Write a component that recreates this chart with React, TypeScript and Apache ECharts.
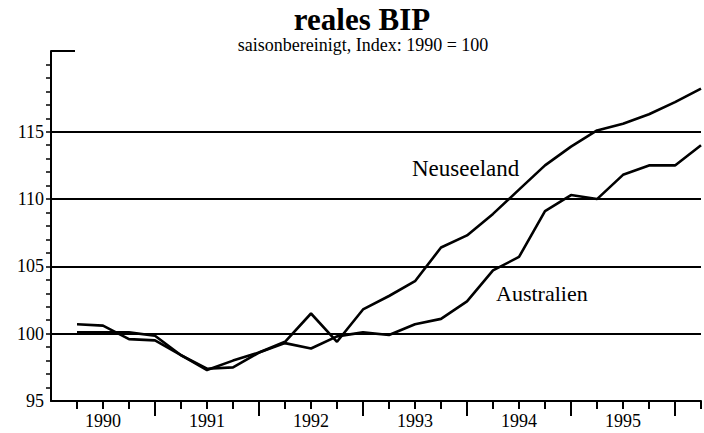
import React, { useEffect, useRef } from "react";
import * as echarts from "echarts";

const quarters = [
  "1990Q1", "1990Q2", "1990Q3", "1990Q4",
  "1991Q1", "1991Q2", "1991Q3", "1991Q4",
  "1992Q1", "1992Q2", "1992Q3", "1992Q4",
  "1993Q1", "1993Q2", "1993Q3", "1993Q4",
  "1994Q1", "1994Q2", "1994Q3", "1994Q4",
  "1995Q1", "1995Q2", "1995Q3", "1995Q4",
  "1996Q1",
];
const neuseeland = [
  100.1, 100.1, 100.1, 99.85, 98.4, 97.3, 98.0, 98.6,
  99.4, 101.5, 99.4, 101.8, 102.8, 103.9, 106.4, 107.3,
  108.9, 110.7, 112.5, 113.9, 115.1, 115.6, 116.3, 117.2, 118.2,
];
const australien = [
  100.7, 100.6, 99.6, 99.5, 98.4, 97.4, 97.5, 98.6,
  99.3, 98.9, 99.8, 100.1, 99.9, 100.7, 101.1, 102.4,
  104.7, 105.7, 109.1, 110.3, 110.0, 111.8, 112.5, 112.5, 114.0,
];
const yearLabels = ["1990", "1991", "1992", "1993", "1994", "1995"];
const yLabels = [95, 100, 105, 110, 115];
const gridValues = [100, 105, 110, 115];

const titleText = "reales BIP";
const subtitleText = "saisonbereinigt, Index: 1990 = 100";

const toX = (q: string) => Number(q.slice(0, 4)) + Number(q.slice(5)) * 0.25;

export default function App() {
  const ref = useRef<HTMLDivElement>(null);
  useEffect(() => {
    if (!ref.current) return;
    const chart = echarts.init(ref.current, null, { renderer: "svg" });
    const font = "'Liberation Serif', 'Times New Roman', serif";
    const xMin = 1990;
    const xMax = 1996.25;
    const quarterTicks: number[] = [];
    const yearTicks: number[] = [];
    quarters.forEach((q) => {
      const v = toX(q);
      if (q.endsWith("Q4")) yearTicks.push(v);
      else quarterTicks.push(v);
    });
    const labelPos = yearLabels.map((y) => Number(y) + 0.5);
    const minorY: number[] = [];
    for (let v = 96; v <= 120; v++) minorY.push(v);

    chart.setOption({
      animation: false,
      backgroundColor: "#fff",
      textStyle: { fontFamily: font, color: "#000" },
      title: [
        {
          text: titleText,
          left: 357,
          top: -1,
          textAlign: "center",
          textStyle: { fontFamily: font, fontSize: 31, fontWeight: "bold", color: "#000" },
        },
        {
          text: subtitleText,
          left: 358,
          top: 31,
          textAlign: "center",
          textStyle: { fontFamily: font, fontSize: 18, fontWeight: "normal", color: "#000" },
        },
      ],
      grid: { left: 51, right: 3, top: 51, bottom: 32, containLabel: false },
      xAxis: [
        {
          type: "value",
          min: xMin,
          max: xMax,
          axisLine: { show: true, lineStyle: { color: "#000", width: 2 } },
          axisTick: {
            show: true,
            customValues: quarterTicks,
            length: 8,
            lineStyle: { color: "#000", width: 2 },
          },
          axisLabel: {
            show: true,
            customValues: labelPos,
            formatter: (v: number) => String(Math.floor(v)),
            fontFamily: font,
            fontSize: 18,
            color: "#000",
            margin: 11,
          },
          splitLine: { show: false },
        },
        {
          type: "value",
          min: xMin,
          max: xMax,
          position: "bottom",
          axisLine: { show: false },
          axisTick: {
            show: true,
            customValues: yearTicks,
            length: 15,
            lineStyle: { color: "#000", width: 2 },
          },
          axisLabel: { show: false },
          splitLine: { show: false },
        },
      ],
      yAxis: [
        {
          type: "value",
          min: 95,
          max: 121,
          interval: 5,
          axisLine: { show: true, lineStyle: { color: "#000", width: 2 } },
          axisTick: {
            show: true,
            customValues: minorY,
            length: 5,
            lineStyle: { color: "#000", width: 1.5 },
          },
          axisLabel: {
            show: true,
            customValues: yLabels,
            fontFamily: font,
            fontSize: 18,
            color: "#000",
            margin: 7,
          },
          splitLine: { show: false },
        },
        {
          type: "value",
          min: 95,
          max: 121,
          position: "left",
          axisLine: { show: false },
          axisTick: {
            show: true,
            inside: true,
            customValues: [121],
            length: 24,
            lineStyle: { color: "#000", width: 2 },
          },
          axisLabel: { show: false },
          splitLine: { show: false },
        },
      ],
      graphic: [
        {
          type: "text",
          left: 412,
          top: 157,
          style: { text: "Neuseeland", font: `23px ${font}`, fill: "#000" },
        },
        {
          type: "text",
          left: 496,
          top: 282,
          style: { text: "Australien", font: `22px ${font}`, fill: "#000" },
        },
      ],
      series: [
        {
          name: "Neuseeland",
          type: "line",
          data: quarters.map((q, i) => [toX(q), neuseeland[i]]),
          showSymbol: false,
          lineStyle: { color: "#000", width: 2.6 },
          markLine: {
            silent: true,
            symbol: "none",
            label: { show: false },
            lineStyle: { color: "#000", width: 1.8, type: "solid" },
            data: gridValues.map((v) => ({ yAxis: v })),
          },
        },
        {
          name: "Australien",
          type: "line",
          data: quarters.map((q, i) => [toX(q), australien[i]]),
          showSymbol: false,
          lineStyle: { color: "#000", width: 2.6 },
        },
      ],
    });
    return () => chart.dispose();
  }, []);
  return (
    <div
      ref={ref}
      style={{ position: "fixed", left: 0, top: 0, width: 704, height: 433 }}
    />
  );
}
